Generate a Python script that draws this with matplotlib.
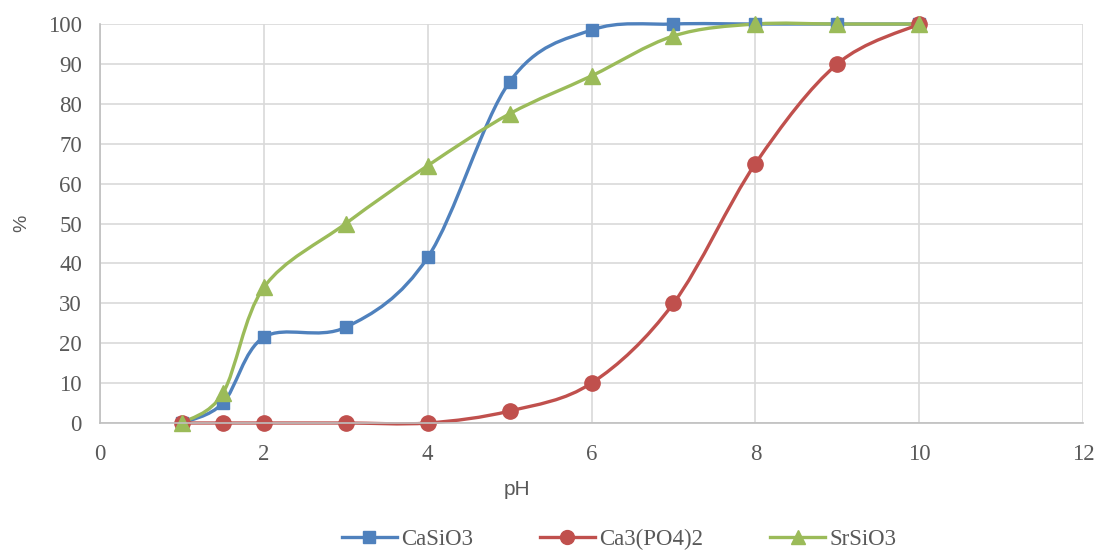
import numpy as np
import matplotlib.pyplot as plt
from matplotlib.path import Path
from matplotlib.patches import PathPatch
from matplotlib.lines import Line2D

ph = [1, 1.5, 2, 3, 4, 5, 6, 7, 8, 9, 10]
casio3 = [0, 5, 21.5, 24, 41.5, 85.5, 98.5, 100, 100, 100, 100]
ca3po42 = [0, 0, 0, 0, 0, 3, 10, 30, 65, 90, 100]
srsio3 = [0, 7.5, 34, 50, 64.5, 77.5, 87, 97, 100, 100, 100]

names = ['CaSiO3', 'Ca3(PO4)2', 'SrSiO3']
colors = ['#4F81BD', '#C0504D', '#9BBB59']
markers = ['s', 'o', '^']
msizes = [9, 11, 11]

serif = 'Liberation Serif'
sans = 'Liberation Sans'


def smooth_path(x, y):
    # Excel-like smoothed line: Catmull-Rom segments as cubic Bezier
    p = np.column_stack([x, y]).astype(float)
    n = len(p)
    verts = [p[0]]
    codes = [Path.MOVETO]
    for i in range(n - 1):
        p0 = p[i - 1] if i > 0 else p[i]
        p1 = p[i]
        p2 = p[i + 1]
        p3 = p[i + 2] if i + 2 < n else p[i + 1]
        c1 = p1 + (p2 - p0) / 6
        c2 = p2 - (p3 - p1) / 6
        verts += [c1, c2, p2]
        codes += [Path.CURVE4] * 3
    return Path(verts, codes)


fig = plt.figure(figsize=(10.98, 5.51), dpi=100)
ax = fig.add_axes([0.0911, 0.2323, 0.8953, 0.7241])

for ys, c, m, ms in zip([casio3, ca3po42, srsio3], colors, markers, msizes):
    patch = PathPatch(smooth_path(ph, ys), facecolor='none', edgecolor=c,
                      lw=2.4, capstyle='round', joinstyle='round', clip_on=False)
    ax.add_patch(patch)
    ax.plot(ph, ys, ls='none', marker=m, ms=ms, color=c, clip_on=False)

ax.set_xlim(0, 12)
ax.set_ylim(0, 100)
ax.set_xticks(range(0, 13, 2))
ax.set_yticks(range(0, 101, 10))
ax.grid(True, color='#D9D9D9', lw=1.2)
ax.set_axisbelow(True)
for s in ['top', 'right']:
    ax.spines[s].set_visible(False)
for s in ['left', 'bottom']:
    ax.spines[s].set_color('#BFBFBF')
    ax.spines[s].set_linewidth(1.2)
ax.tick_params(length=0, labelcolor='#595959')
ax.tick_params(axis='x', pad=15)
ax.tick_params(axis='y', pad=13)
for lab in ax.get_xticklabels() + ax.get_yticklabels():
    lab.set_fontfamily(serif)
    lab.set_fontsize(16.5)

# the pH title sits left of centre in the original
ax.set_xlabel('pH', fontfamily=sans, fontsize=15, color='#595959')
ax.xaxis.set_label_coords(0.424, -0.143)
ax.set_ylabel('%', fontfamily=sans, fontsize=14, color='#595959')
ax.yaxis.set_label_coords(-0.071, 0.5)

handles = [Line2D([], [], color=c, lw=2.4, marker=m, ms=ms - 1)
           for c, m, ms in zip(colors, markers, msizes)]
fig.legend(handles, names, loc='lower center', bbox_to_anchor=(0.564, -0.035),
           ncol=3, frameon=False, handlelength=2.4, handletextpad=0.2,
           columnspacing=2.9, prop={'family': serif, 'size': 16.5},
           labelcolor='#595959')

fig.savefig('out.png', dpi=100)
